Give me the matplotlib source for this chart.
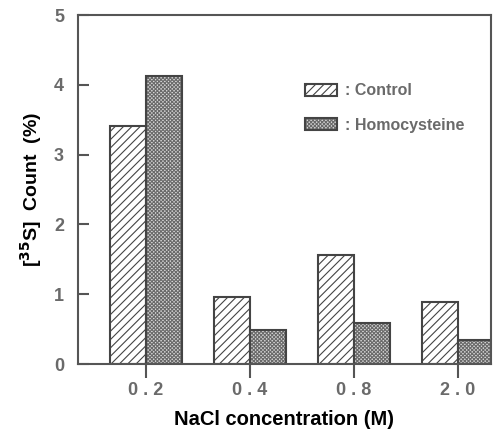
import matplotlib
matplotlib.use('Agg')
import matplotlib.pyplot as plt
from matplotlib.legend_handler import HandlerTuple
import numpy as np

plt.rcParams['font.family'] = ['Liberation Sans', 'DejaVu Sans']
plt.rcParams['font.weight'] = 'bold'
plt.rcParams['hatch.linewidth'] = 0.8

# data
concentrations = ['0.2', '0.4', '0.8', '2.0']
control = [3.41, 0.96, 1.56, 0.89]
homocysteine = [4.13, 0.49, 0.59, 0.34]

axis_col = '#555555'
text_col = '#6a6a6a'

fig = plt.figure(figsize=(4.93, 4.29), dpi=100)
ax = fig.add_axes([0.158, 0.1515, 0.838, 0.8135])

x = np.arange(len(concentrations))
w = 0.35
ctrl = ax.bar(x - w / 2, control, w, facecolor='white', edgecolor='#444444',
              hatch='////', linewidth=1.5)
# stipple fill first (hatch takes the edge colour), then the dark outline
h_fill = ax.bar(x + w / 2, homocysteine, w, facecolor='#d8d8d8', edgecolor='#6a6a6a',
                hatch='xxxxxxxxx', linewidth=0)
h_edge = ax.bar(x + w / 2, homocysteine, w, facecolor='none', edgecolor='#444444',
                linewidth=1.5)

ax.set_xlim(-0.654, 3.317)
ax.set_ylim(0, 5)
ax.set_yticks([0, 1, 2, 3, 4, 5])
ax.set_xticks(x)
# letter-spaced tick labels like the printed figure
ax.set_xticklabels([' '.join(c) for c in concentrations])

for s in ax.spines.values():
    s.set_color(axis_col)
    s.set_linewidth(1.5)

ax.tick_params(axis='y', direction='in', length=8, width=1.5, color=axis_col,
               labelcolor=text_col, labelsize=13, pad=10)
ax.tick_params(axis='x', direction='out', length=10, width=1.5, color=axis_col,
               labelcolor=text_col, labelsize=13, pad=3)

ax.set_xlabel('NaCl concentration (M)', fontsize=14.5, fontweight='bold', labelpad=8)
ax.set_ylabel(r'[$^{\mathbf{35}}$S]  Count  (%)', fontsize=14, fontweight='bold', labelpad=7)

leg = ax.legend([ctrl, (h_fill, h_edge)], [': Control', ': Homocysteine'],
                handler_map={tuple: HandlerTuple(ndivide=1, pad=0)},
                loc='upper left', bbox_to_anchor=(0.515, 0.845), frameon=False,
                handlelength=2.0, handleheight=0.8, handletextpad=0.5,
                labelspacing=1.2, fontsize=11.5)
for t in leg.get_texts():
    t.set_color(text_col)

fig.savefig('out.png', dpi=100)
